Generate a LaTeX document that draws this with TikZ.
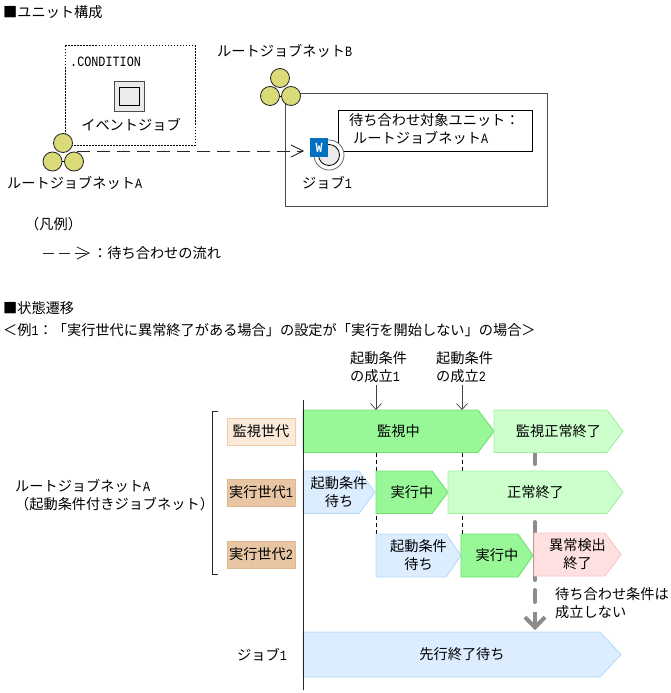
\documentclass[tikz,border=0pt]{standalone}
\usepackage{fontspec}
\setmainfont{Noto Sans CJK JP}
\newfontfamily\hwfont[FakeStretch=0.83]{Liberation Mono}
\usetikzlibrary{arrows.meta,calc}
\newcommand{\hw}[1]{{\hwfont #1}}
\definecolor{runGreen}{HTML}{98F898}
\definecolor{runEdge}{HTML}{70E070}
\definecolor{doneGreen}{HTML}{CCFFCC}
\definecolor{doneEdge}{HTML}{A0F0A0}
\definecolor{waitBlue}{HTML}{DBEDFF}
\definecolor{waitEdge}{HTML}{B8DAF8}
\definecolor{failRed}{HTML}{FFE0E0}
\definecolor{failEdge}{HTML}{FFC4C4}
\definecolor{netYellow}{HTML}{DADA78}
\definecolor{wBlue}{HTML}{0070C0}
\definecolor{genLight}{HTML}{FBE9D9}
\definecolor{genLightEdge}{HTML}{F0CCA8}
\definecolor{genDark}{HTML}{E8C6A4}
\definecolor{genDarkEdge}{HTML}{E0B890}
\tikzset{
  txt/.style={inner sep=0pt, align=center, font=\fontsize{14.2pt}{18pt}\selectfont},
  netcircle/.style={circle, draw=black!85, fill=netYellow, line width=0.8pt, minimum size=19pt, inner sep=0pt},
  genbox/.style={txt, minimum width=68pt, minimum height=27pt, line width=0.9pt},
  flow/.style={line width=1pt, draw=black!85, dash pattern=on 13pt off 7pt, -{Straight Barb[length=12pt,width=12pt,line width=0.8pt]}},
  stopline/.style={line width=4pt, draw=black!45, line cap=round},
  timeline/.style={-{Straight Barb[length=6pt,width=11pt]}, line width=0.7pt, draw=black!75},
  genmark/.style={line width=0.9pt, dash pattern=on 4pt off 3pt},
  run/.style={fill=runGreen, draw=runEdge},
  done/.style={fill=doneGreen, draw=doneEdge},
  wait/.style={fill=waitBlue, draw=waitEdge},
  fail/.style={fill=failRed, draw=failEdge}
}
% name, left, shoulder, right, top, bottom, look, text
\newcommand{\statebar}[8]{
  \path[#7, line width=0.9pt] (#2,#5) -- (#3,#5) -- (#4,{(#5+#6)/2}) -- (#3,#6) -- (#2,#6) -- cycle;
  \node[txt] (#1) at ({(#2+#4)/2},{(#5+#6)/2}) {#8};
}
\begin{document}
\begin{tikzpicture}[x=1pt, y=-1pt, >=latex]
  \useasboundingbox (0,0) rectangle (671,693);

  % 1. Unit structure
  \node[txt, anchor=west] (titleUnit) at (3,12) {■ユニット構成};

  \draw[line width=1pt, dash pattern=on 1.5pt off 1.5pt] (65,46) rectangle (195,145);
  \node[txt, anchor=west] (condLabel) at (70,62) {\hw{.CONDITION}};

  % event job icon
  \node[draw=black!70, fill=black!8, line width=1pt, minimum size=30pt, inner sep=0pt] (eventOuter) at (129,96) {};
  \node[draw=black, fill=black!8, line width=1pt, minimum width=20pt, minimum height=18pt, inner sep=0pt] (eventInner) at (129.5,96) {};
  \node[txt] (eventLabel) at (131,125) {イベントジョブ};

  % root jobnet B frame
  \draw[line width=1pt, draw=black!70] (285,93) rectangle (547,206);
  \node[txt, anchor=west] (netBLabel) at (217,51) {ルートジョブネット\hw{B}};
  \node[netcircle] (netBtop) at (280,78) {};
  \node[netcircle] (netBleft) at (270,96) {};
  \node[netcircle] (netBright) at (291,96) {};
  \draw[line width=0.8pt] (netBleft) -- (netBright);

  % wait target
  \node[draw=black, fill=white, line width=0.8pt, minimum width=194pt, minimum height=41pt, inner sep=0pt] (targetBox) at (435,130.5) {};
  \node[txt, anchor=west] (targetOne) at (349,120) {待ち合わせ対象ユニット：};
  \node[txt, anchor=west] (targetTwo) at (353,138) {ルートジョブネット\hw{A}};

  % job 1
  \node[circle, draw=black!60, fill=white, line width=0.8pt, minimum size=30pt, inner sep=0pt] (jobOuter) at (329,155) {};
  \node[circle, draw=black, fill=black!8, line width=0.8pt, minimum size=21pt, inner sep=0pt] (jobInner) at (329,155) {};
  \node[fill=wBlue, text=white, minimum width=18pt, minimum height=19pt, inner sep=0pt, font=\hwfont\bfseries\fontsize{14pt}{14pt}\selectfont] (jobW) at (319,147.5) {W};
  \node[txt] (jobLabel) at (327,183) {ジョブ\hw{1}};

  % root jobnet A
  \node[netcircle] (netAtop) at (63,143) {};
  \node[netcircle] (netAleft) at (52.5,161.5) {};
  \node[netcircle] (netAright) at (74,161.5) {};
  \draw[line width=0.8pt] (netAleft) -- (netAright);
  \node[txt, anchor=west] (netALabel) at (7,183) {ルートジョブネット\hw{A}};

  \coordinate (flowStart) at (77,151);
  \coordinate (flowEnd) at (304,151);
  \draw[flow] (flowStart) -- (flowEnd);

  % legend
  \node[txt, anchor=west] (legendTitle) at (25,224) {（凡例）};
  \coordinate (legendStart) at (43,253);
  \coordinate (legendEnd) at (90,253);
  \draw[flow, dash pattern=on 11pt off 5pt] (legendStart) -- (legendEnd);
  \node[txt, anchor=west] (legendText) at (93,253) {：待ち合わせの流れ};

  % 2. State transition
  \node[txt, anchor=west] (titleState) at (3,308) {■状態遷移};
  \node[txt, anchor=west] (caseLabel) at (3,330) {＜例\hw{1}：「実行世代に異常終了がある場合」の設定が「実行を開始しない」の場合＞};

  \node[txt, align=left, anchor=west] (condOne) at (350,367) {起動条件\\の成立\hw{1}};
  \node[txt, align=left, anchor=west] (condTwo) at (436,367) {起動条件\\の成立\hw{2}};

  % generation marks, under the bars
  \coordinate (markOneTop) at (376,385);
  \coordinate (markOneBar) at (376,410);
  \coordinate (markOneLow) at (376,453);
  \coordinate (markOneEnd) at (376,577);
  \coordinate (markTwoTop) at (462,385);
  \coordinate (markTwoBar) at (462,410);
  \coordinate (markTwoLow) at (462,453);
  \coordinate (markTwoEnd) at (462,534);
  \draw[genmark] (markOneLow) -- (markOneEnd);
  \draw[genmark] (markTwoLow) -- (markTwoEnd);

  % waiting condition marker, under the bars
  \draw[stopline] (535,453) -- (535,464);
  \draw[stopline] (535,522) -- (535,580);

  % bars
  \statebar{watchBar}{303}{478}{494}{410}{452.5}{run}{監視中}
  \statebar{watchDone}{494}{607}{623}{410}{452.5}{done}{監視正常終了}
  \statebar{waitOne}{303}{359}{375}{471}{513.5}{wait}{起動条件\\待ち}
  \statebar{runOne}{376}{432}{448}{471}{513.5}{run}{実行中}
  \statebar{normalDone}{448}{607}{623}{471}{513.5}{done}{正常終了}
  \statebar{waitTwo}{376}{446}{461}{534}{577}{wait}{起動条件\\待ち}
  \statebar{runTwo}{461}{518}{533}{534}{577}{run}{実行中}
  \statebar{failDone}{534}{605}{621}{533}{576}{fail}{異常検出\\終了}
  \statebar{waitFirst}{303}{600}{621}{632}{677}{wait}{先行終了待ち}

  \draw[timeline] (markOneTop) -- (markOneBar);
  \draw[timeline] (markTwoTop) -- (markTwoBar);

  \draw[stopline] (535,590) -- (535,602);
  \draw[stopline, line cap=butt, -{Straight Barb[length=10pt,width=20pt,line width=4pt]}] (535,612) -- (535,630);
  \node[txt, align=left, anchor=west] (condNote) at (555,603) {待ち合わせ条件は\\成立しない};

  % generations
  \draw[line width=1pt, draw=black!85] (303,400) -- (303,690);
  \draw[line width=1pt, draw=black!85] (218,411) -- (212,411) -- (212,574) -- (218,574);
  \node[genbox, fill=genLight, draw=genLightEdge] (genWatch) at (261,431.5) {監視世代};
  \node[genbox, fill=genDark, draw=genDarkEdge] (genOne) at (261,492.5) {実行世代\hw{1}};
  \node[genbox, fill=genDark, draw=genDarkEdge] (genTwo) at (261,554.5) {実行世代\hw{2}};
  \node[txt, align=left, anchor=west] (netANote) at (15,495) {ルートジョブネット\hw{A}\\（起動条件付きジョブネット）};
  \node[txt, anchor=west] (jobRow) at (237,655) {ジョブ\hw{1}};
\end{tikzpicture}
\end{document}
